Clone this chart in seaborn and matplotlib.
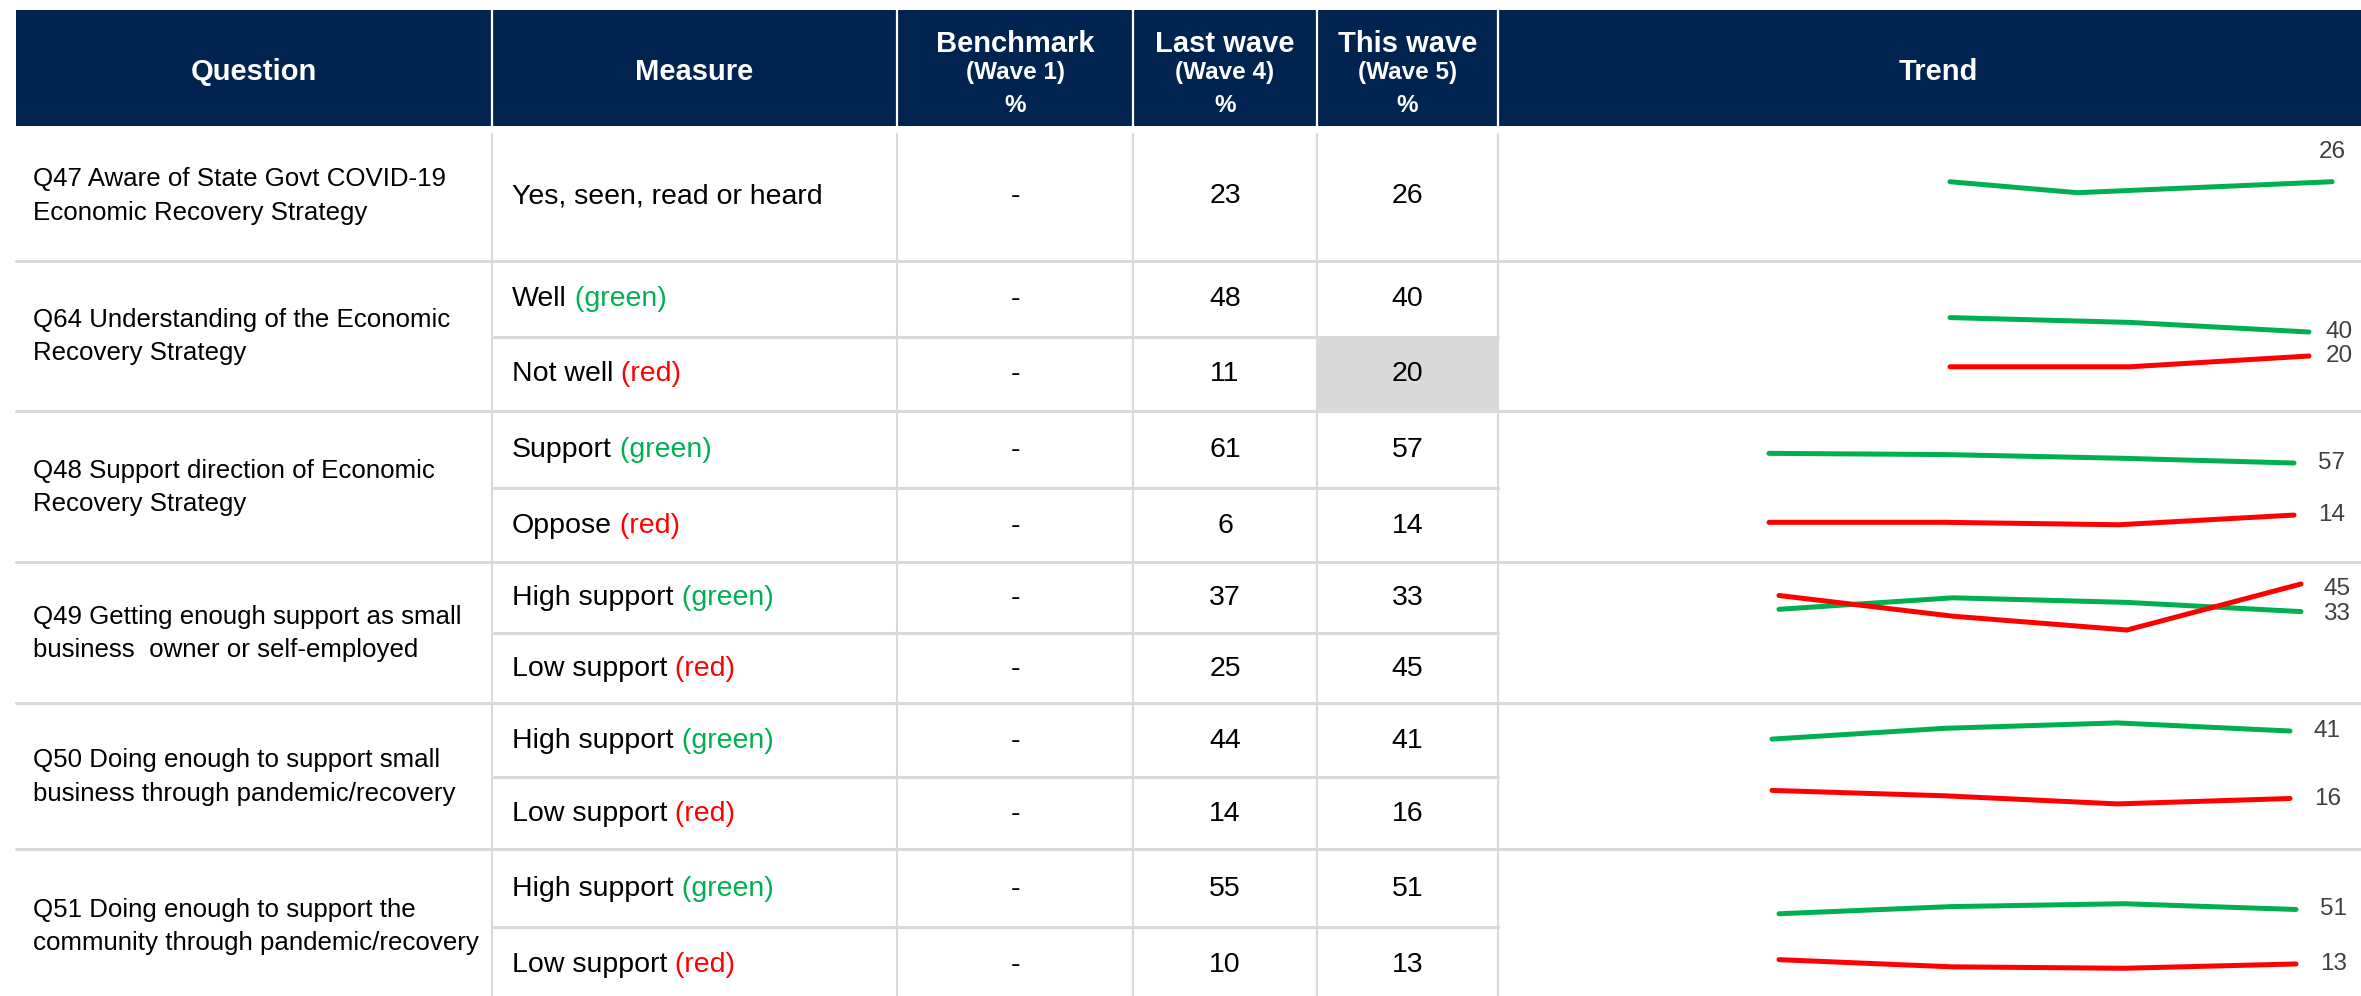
import matplotlib
matplotlib.use("Agg")
import matplotlib.pyplot as plt
import seaborn as sns
import pandas as pd
import numpy as np

# ---------------- data ----------------
questions = [
    "Q47 Aware of State Govt COVID-19\nEconomic Recovery Strategy",
    "Q64 Understanding of the Economic\nRecovery Strategy",
    "Q48 Support direction of Economic\nRecovery Strategy",
    "Q49 Getting enough support as small\nbusiness  owner or self-employed",
    "Q50 Doing enough to support small\nbusiness through pandemic/recovery",
    "Q51 Doing enough to support the\ncommunity through pandemic/recovery",
]

# one entry per measure row
measure_group = [0, 1, 1, 2, 2, 3, 3, 4, 4, 5, 5]
measure_label = ["Yes, seen, read or heard", "Well", "Not well", "Support", "Oppose",
                 "High support", "Low support", "High support", "Low support",
                 "High support", "Low support"]
measure_tag = [None, "green", "red", "green", "red", "green", "red",
               "green", "red", "green", "red"]
benchmark = ["-"] * 11
last_wave = [23, 48, 11, 61, 6, 37, 25, 44, 14, 55, 10]
this_wave = [26, 40, 20, 57, 14, 33, 45, 41, 16, 51, 13]
highlight = [False, False, True, False, False, False, False, False, False, False, False]

waves = [1, 2, 3, 4, 5]
trend_values = [
    [np.nan, 26, 20, 23, 26],
    [np.nan, np.nan, 52, 48, 40],
    [np.nan, np.nan, 11, 11, 20],
    [np.nan, 65, 64, 61, 57],
    [np.nan, 8, 8, 6, 14],
    [np.nan, 34, 39, 37, 33],
    [np.nan, 40, 31, 25, 45],
    [np.nan, 38, 42, 44, 41],
    [np.nan, 19, 17, 14, 16],
    [np.nan, 48, 53, 55, 51],
    [np.nan, 16, 11, 10, 13],
]
line_color = ["green", "green", "red", "green", "red", "green", "red",
              "green", "red", "green", "red"]

header_main = ["Question", "Measure", "Benchmark", "Last wave", "This wave", "Trend"]
header_sub = [None, None, "(Wave 1)", "(Wave 4)", "(Wave 5)", None]

# ---------------- layout (pixels) ----------------
W, H = 2361, 996
NAVY = "#00234F"
GRID = "#D9D9D9"
COLORS = {"green": "#00B050", "red": "#FF0000"}

col_x = [16, 492, 897, 1133, 1317, 1498, 2361]
header_top, header_bot = 10, 126
group_bounds = [(132, 260), (262, 411), (412, 563), (563, 704), (704, 850), (850, 1003)]
row_bounds = [(132, 260), (262, 336), (337, 411), (412, 488), (488, 563), (563, 633),
              (633, 704), (704, 777), (777, 850), (850, 927), (927, 1003)]
# trend column: pixel x of first/last point, and value->pixel mapping (y0, px per unit)
trend_x = [(1950, 2332), (1950, 2309), (1769, 2294), (1779, 2301), (1772, 2290), (1779, 2296)]
trend_scale = [(229.3, 1.83), (380, 1.2), (532, 1.21), (687.5, 2.3), (841.7, 2.7), (982.6, 1.434)]
# end label offsets in pixels (dx, dy) and alignment
label_off = [(0, 30, "center"), (17, 0, "left"), (17, 0, "left"), (24, 0, "left"), (24, 0, "left"),
             (22, -2, "left"), (22, -5, "left"), (24, 0, "left"), (24, 0, "left"),
             (24, 0, "left"), (24, 0, "left")]

sns.set_theme(style="white")
plt.rcParams["font.family"] = ["Liberation Sans", "DejaVu Sans"]

fig = plt.figure(figsize=(W / 100, H / 100), dpi=100)
ax = fig.add_axes([0, 0, 1, 1])
ax.set_xlim(0, W)
ax.set_ylim(H, 0)
ax.set_axis_off()

# header
ax.add_patch(plt.Rectangle((col_x[0], header_top), W - col_x[0], header_bot - header_top,
                           color=NAVY, lw=0))
for x in col_x[1:-1]:
    ax.plot([x, x], [header_top, header_bot], color="white", lw=1.6)
for i, name in enumerate(header_main):
    cx = (col_x[i] + col_x[i + 1]) / 2
    if i == 5:
        cx = 1938
    if header_sub[i] is None:
        ax.text(cx, 80, name, ha="center", va="baseline", color="white",
                fontsize=21, fontweight="bold")
    else:
        ax.text(cx, 52, name, ha="center", va="baseline", color="white",
                fontsize=21, fontweight="bold")
        ax.text(cx, 79, header_sub[i], ha="center", va="baseline", color="white",
                fontsize=17.5, fontweight="bold")
        ax.text(cx, 112, "%", ha="center", va="baseline", color="white",
                fontsize=17.5, fontweight="bold")

# highlight cells
for r, hl in enumerate(highlight):
    if hl:
        top, bot = row_bounds[r]
        ax.add_patch(plt.Rectangle((col_x[4], top), col_x[5] - col_x[4], bot - top,
                                   color=GRID, lw=0))

# grid lines
for x in col_x[1:-1]:
    ax.plot([x, x], [134, H + 10], color=GRID, lw=1.5)
for g, (top, bot) in enumerate(group_bounds[1:]):
    ax.plot([col_x[0], W], [top - 1, top - 1], color=GRID, lw=2.2)
for r in range(1, len(row_bounds)):
    if measure_group[r] == measure_group[r - 1]:
        y = row_bounds[r][0]
        ax.plot([col_x[1], col_x[5]], [y, y], color=GRID, lw=2.2)

# question text
for g, q in enumerate(questions):
    top, bot = group_bounds[g]
    ax.text(col_x[0] + 17, (top + bot) / 2, q, ha="left", va="center",
            fontsize=18.6, color="black", linespacing=1.48)

# measure rows
for r in range(len(measure_label)):
    top, bot = row_bounds[r]
    yc = (top + bot) / 2
    t = ax.text(col_x[1] + 20, yc, measure_label[r], ha="left", va="center",
                fontsize=20.5, color="black")
    if measure_tag[r] is not None:
        ax.annotate(" (" + measure_tag[r] + ")", xy=(1, 0), xycoords=t,
                    ha="left", va="bottom", fontsize=20.5, color=COLORS[measure_tag[r]])
    for c, val in zip([2, 3, 4], [benchmark[r], last_wave[r], this_wave[r]]):
        ax.text((col_x[c] + col_x[c + 1]) / 2, yc, str(val), ha="center", va="center",
                fontsize=20.5, color="black")

# trend sparklines
for g in range(len(questions)):
    top, bot = group_bounds[g]
    x0, x1 = trend_x[g]
    y0, s = trend_scale[g]
    rows = [r for r in range(len(measure_group)) if measure_group[r] == g]
    first = min(waves[int(np.argmax(~np.isnan(trend_values[r])))] for r in rows)
    tax = fig.add_axes([x0 / W, 1 - bot / H, (x1 - x0) / W, (bot - top) / H])
    tax.set_axis_off()
    for r in rows:
        df = pd.DataFrame({"wave": waves, "value": trend_values[r]}).dropna()
        sns.lineplot(data=df, x="wave", y="value", ax=tax, color=COLORS[line_color[r]],
                     linewidth=3.6, solid_capstyle="round", clip_on=False, legend=False)
        dx, dy, ha = label_off[r]
        tax.annotate(str(int(df["value"].iloc[-1])), xy=(5, df["value"].iloc[-1]),
                     xytext=(dx, dy), textcoords="offset pixels", ha=ha, va="center",
                     fontsize=17.5, color="#404040", annotation_clip=False)
    tax.set_xlim(first, 5)
    tax.set_ylim((y0 - bot) / s, (y0 - top) / s)

fig.savefig("out.png", dpi=100)
